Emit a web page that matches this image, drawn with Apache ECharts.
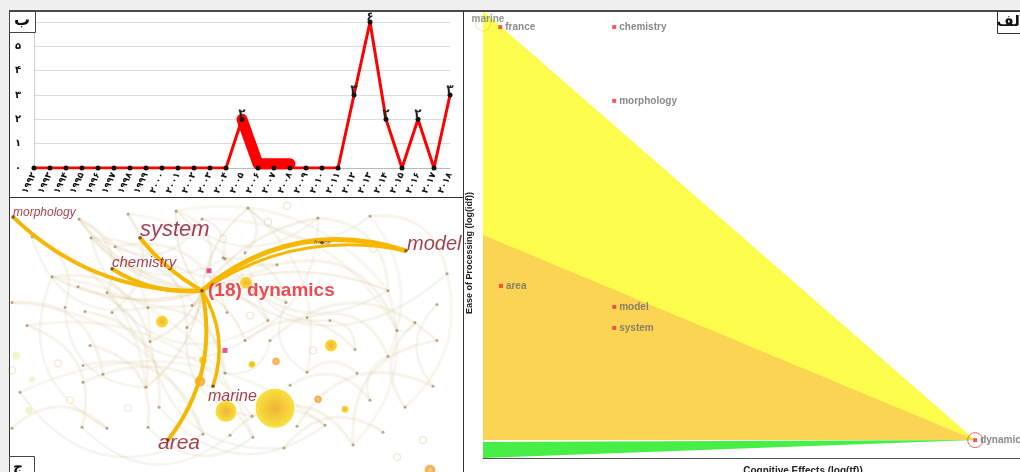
<!DOCTYPE html>
<html><head><meta charset="utf-8">
<script src="https://cdn.jsdelivr.net/npm/echarts@6/dist/echarts.min.js"></script>
<style>
html,body{margin:0;padding:0;background:#f0f0f0;overflow:hidden;}
#wrap{position:relative;width:1020px;height:472px;overflow:hidden;}
#panel{position:absolute;left:9px;top:11px;width:1011px;height:461px;background:#fff;}
#chart{position:absolute;left:0;top:0;width:1020px;height:472px;}
</style></head><body>
<div id="wrap"><div id="panel"></div><div id="chart"></div></div>
<script>
// ---------- Panel ب : publications per year ----------
const yearLabels = ['۱۹۹۲','۱۹۹۳','۱۹۹۴','۱۹۹۵','۱۹۹۶','۱۹۹۷','۱۹۹۸','۱۹۹۹','۲۰۰۰','۲۰۰۱','۲۰۰۲','۲۰۰۳','۲۰۰۴','۲۰۰۵','۲۰۰۶','۲۰۰۷','۲۰۰۸','۲۰۰۹','۲۰۱۰','۲۰۱۱','۲۰۱۲','۲۰۱۳','۲۰۱۴','۲۰۱۵','۲۰۱۶','۲۰۱۷','۲۰۱۸'];
const yearCounts = [0,0,0,0,0,0,0,0,0,0,0,0,0,2,0,0,0,0,0,0,3,6,2,0,2,0,3];
const smearBand = [null,null,null,null,null,null,null,null,null,null,null,null,null,2,0.17,0.17,0.17,null,null,null,null,null,null,null,null,null,null];
const yTickLabels = ['۰','۱','۲','۳','۴','۵','۶'];

// ---------- Panel الف : relevance / ease of processing ----------
const termNames = ['marine','france','chemistry','morphology','area','model','system','dynamics'];
const cognitiveEffects = [0.0, 0.27, 2.05, 2.05, 0.28, 2.05, 2.05, 7.69];
const easeOfProcessing = [9.72, 9.64, 9.64, 7.99, 3.85, 3.38, 2.91, 0.40];
const yellowZone = [[0,10.0],[7.69,0.40],[0,0.40]];
const orangeZone = [[0,4.99],[7.69,0.40],[0,0.40]];
const greenZone  = [[0,0.36],[7.69,0.40],[0,0.0]];

// ---------- Panel ج : co-word network (layout units) ----------
const keywordNodes = {
  morphology:[13,216], system:[140,237], chemistry:[112,268], dynamics:[202,290],
  model:[406,250], marine:[213,386], area:[168,440], france:[322,242]
};
const keywordLabels = ['morphology','system','chemistry','(18) dynamics','model','marine','area','france'];
const coreLinks = [['morphology','dynamics'],['chemistry','dynamics'],['system','dynamics'],['dynamics','model'],['dynamics','model'],['dynamics','area'],['dynamics','marine']];
const bgNodes = [
 [79,218],[128,213],[176,210],[202,218],[32,236],[91,237],[115,246],[52,276],[78,286],[107,292],
 [148,307],[12,302],[65,307],[85,311],[112,312],[192,305],[209,270],[227,312],[27,325],[187,327],
 [225,258],[248,207],[318,217],[370,215],[223,257],[277,264],[245,252],[286,302],[268,320],[307,317],
 [388,290],[447,273],[437,304],[397,330],[330,320],[90,345],[150,341],[83,365],[103,374],[20,392],
 [83,382],[146,387],[159,407],[12,428],[82,427],[107,428],[148,427],[203,434],[230,435],[253,437],
 [284,448],[297,426],[325,425],[353,445],[383,432],[405,407],[388,356],[437,340],[415,322],[355,349],
 [307,372],[290,385],[252,416],[225,373],[245,340],[270,340],[357,373],[433,386],[370,400]
];
const bgLinksA = [[0,9],[1,14],[2,16],[3,24],[4,12],[5,19],[6,17],[7,36],[8,41],[10,63],[11,38],[13,42],[15,28],[18,44],[20,27],[21,26],[22,30],[23,31],[25,33],[29,56],[34,59],[35,46],[37,47],[40,49],[43,45],[48,52],[50,54],[51,67],[53,57],[55,58],[60,66],[61,68],[62,53],[64,59],[65,57]];
const bgLinksB = [[0,20],[1,25],[2,22],[4,10],[5,15],[6,3],[7,45],[9,28],[12,41],[14,64],[16,31],[19,62],[24,30],[26,34],[27,60],[32,67],[33,58],[36,50],[39,47],[42,52],[44,48],[46,49],[56,68],[63,65],[21,23]];
const bgLinksC = [[0,36],[4,41],[11,47],[21,60],[22,64],[23,56],[3,33],[2,30],[7,49],[18,62],[31,55],[30,53],[1,28],[5,63],[39,52]];
const hubTargets = [0,2,5,9,15,19,21,25,27,36,41,64,7,30,22];
// bubbles: [x, y, weight]
const yellowBubbles = [[275,408,20],[226,411,11],[331,345,6.5],[162,321,6.5],[246,282,6.5],[203,360,4.5],[252,364,4],[345,409,4]];
const orangeBubbles = [[200,381,6],[276,361,4.5],[318,399,4.5],[430,470,6]];
const paleBubbles = [[16,355,4],[32,379,3],[29,410,3.5]];
const ringNodes = [[223,238],[268,221],[287,205],[373,248],[250,315],[58,363],[128,408],[70,400],[423,440],[397,457],[313,350],[12,370]];
const accentNodes = [[225,350],[209,270]];

// ---------- styles (kept separate from data) ----------
const kwStyle = {
  morphology:{size:12, dx:0, dy:-4},
  system:{size:22, dx:0, dy:-8},
  chemistry:{size:15, dx:0, dy:-6},
  dynamics:{size:19, dx:6, dy:0, bold:true, color:'#e5202a'},
  model:{size:20, dx:1, dy:-6},
  marine:{size:16, dx:-5, dy:10},
  area:{size:21, dx:-10, dy:3},
  france:{size:6, dx:-8, dy:-1, color:'#6a3020'}
};
const coreCurves = [-0.21,-0.17,-0.1,0.27,0.21,0.23,0.23];
const coreWidths = [4,4,4,5,3,4,3.5];

const nodeNames = Object.keys(keywordNodes);
const chart = echarts.init(document.getElementById('chart'), null, {renderer:'canvas'});

function zoneSeries(points, color){
  return {type:'custom', xAxisIndex:1, yAxisIndex:1, z:1, silent:true, data:[[0,0]],
    renderItem:(params, api)=>({type:'polygon', shape:{points: points.map(p=>api.coord(p))}, style:{fill:color}})};
}
function linkData(list){
  return list.map(l=>({coords:[bgNodes[l[0]], bgNodes[l[1]]]}));
}
const bubbleFill = {type:'radial', x:0.5, y:0.5, r:0.5, colorStops:[{offset:0,color:'#efb02c'},{offset:0.55,color:'#f4cc2e'},{offset:1,color:'#f8e23a'}]};
const orangeFill = {type:'radial', x:0.5, y:0.5, r:0.5, colorStops:[{offset:0,color:'#f9c36a'},{offset:0.5,color:'#f29a2a'},{offset:1,color:'#f4b24a'}]};
const netCommon = {xAxisIndex:2, yAxisIndex:2, silent:true};

const option = {
  animation:false,
  backgroundColor:'transparent',
  grid:[
    {left:34, top:22, width:416, height:146},
    {left:483, top:11, right:0, height:447},
    {left:10, top:198, width:453, height:274}
  ],
  xAxis:[
    {gridIndex:0, type:'category', data:yearLabels, boundaryGap:false, axisTick:{show:false},
     axisLine:{lineStyle:{color:'#bbb'}},
     axisLabel:{interval:0, rotate:65, margin:5, fontSize:9, fontWeight:'bold', color:'#111', fontFamily:'DejaVu Sans'}},
    {gridIndex:1, type:'value', min:0, max:8.39, axisLine:{show:true, onZero:false, lineStyle:{color:'#555'}},
     axisTick:{show:false}, axisLabel:{show:false}, splitLine:{show:false}},
    {gridIndex:2, type:'value', min:10, max:463, show:false}
  ],
  yAxis:[
    {gridIndex:0, type:'value', min:0, max:6, interval:1, axisLine:{show:true, lineStyle:{color:'#ccc'}},
     axisTick:{show:false}, splitLine:{lineStyle:{color:'#dcdcdc'}},
     axisLabel:{margin:13, fontSize:10, fontWeight:'bold', color:'#111', fontFamily:'DejaVu Sans', formatter:v=>yTickLabels[v]}},
    {gridIndex:1, type:'value', min:0, max:10, axisLine:{show:true, onZero:false, lineStyle:{color:'#cfcfb0'}},
     axisTick:{show:false}, axisLabel:{show:false}, splitLine:{show:false}},
    {gridIndex:2, type:'value', min:197, max:472, inverse:true, show:false}
  ],
  series:[
    // panel ب
    {type:'line', xAxisIndex:0, yAxisIndex:0, data:smearBand, z:2, silent:true, symbol:'none', connectNulls:false,
     lineStyle:{color:'#ff0000', width:11, cap:'round', join:'round'}},
    {type:'line', xAxisIndex:0, yAxisIndex:0, data:yearCounts, z:3, silent:true, symbol:'circle', symbolSize:5,
     lineStyle:{color:'#ff0000', width:3}, itemStyle:{color:'#111'},
     label:{show:true, position:'top', distance:-3, formatter:p=>p.value ? yTickLabels[p.value] : '',
       fontSize:12, fontWeight:'bold', color:'#222', fontFamily:'DejaVu Sans'}},
    // panel الف
    zoneSeries(yellowZone, '#fcfc4c'),
    zoneSeries(orangeZone, '#fcd453'),
    zoneSeries(greenZone, '#46ee46'),
    {type:'scatter', xAxisIndex:1, yAxisIndex:1, z:5, silent:true, symbol:'circle', symbolSize:15,
     data:[[cognitiveEffects[7], easeOfProcessing[7]]],
     itemStyle:{color:'rgba(0,0,0,0)', borderColor:'#d64848', borderWidth:1}},
    {type:'scatter', xAxisIndex:1, yAxisIndex:1, z:5, silent:true, symbol:'circle', symbolSize:15,
     data:[[cognitiveEffects[0], easeOfProcessing[0]]],
     itemStyle:{color:'rgba(0,0,0,0)', borderColor:'rgba(200,185,90,0.5)', borderWidth:1}},
    {type:'scatter', xAxisIndex:1, yAxisIndex:1, z:6, silent:true, symbol:'rect', symbolSize:4,
     itemStyle:{color:'#e23636'},
     label:{show:true, position:'right', distance:3, formatter:'{b}', color:'#6c6c6c', fontSize:10, fontWeight:'bold', fontFamily:'Liberation Sans'},
     data: termNames.map((n,i)=>{
       const item = {name:n, value:[cognitiveEffects[i], easeOfProcessing[i]]};
       if(n==='marine'){ item.itemStyle={color:'rgba(0,0,0,0)'}; item.label={position:'inside', align:'center', verticalAlign:'middle', offset:[5,-4], color:'#7a7a7a'}; }
       return item;
     })},
    // panel ج
    Object.assign({type:'lines', coordinateSystem:'cartesian2d', z:1, clip:true, data:linkData(bgLinksA),
      lineStyle:{color:'#d8c79c', opacity:0.2, width:3, curveness:0.45}}, netCommon),
    Object.assign({type:'lines', coordinateSystem:'cartesian2d', z:1, clip:true, data:linkData(bgLinksB),
      lineStyle:{color:'#cfcfa8', opacity:0.2, width:2.5, curveness:-0.45}}, netCommon),
    Object.assign({type:'lines', coordinateSystem:'cartesian2d', z:1, clip:true, data:linkData(bgLinksC),
      lineStyle:{color:'#d9cfa6', opacity:0.18, width:3, curveness:0.3}}, netCommon),
    Object.assign({type:'lines', coordinateSystem:'cartesian2d', z:1, clip:true,
      data:hubTargets.map(t=>({coords:[keywordNodes.dynamics, bgNodes[t]]})),
      lineStyle:{color:'#dcc58e', opacity:0.25, width:2.5, curveness:0.2}}, netCommon),
    Object.assign({type:'scatter', z:2, clip:true, symbol:'circle', symbolSize:7, data:ringNodes,
      itemStyle:{color:'rgba(255,255,255,0.6)', borderColor:'rgba(220,208,170,0.6)', borderWidth:1.2}}, netCommon),
    Object.assign({type:'scatter', z:2, clip:true, symbol:'circle', symbolSize:3, data:bgNodes,
      itemStyle:{color:'rgba(110,80,40,0.6)'}}, netCommon),
    Object.assign({type:'scatter', z:3, clip:true, symbol:'circle', symbolSize:v=>v[2]*2, data:paleBubbles,
      itemStyle:{color:'rgba(205,232,120,0.45)'}}, netCommon),
    Object.assign({type:'scatter', z:3, clip:true, symbol:'circle', symbolSize:v=>v[2]*2, data:yellowBubbles,
      itemStyle:{color:bubbleFill, borderColor:'rgba(255,255,255,0.9)', borderWidth:1, opacity:0.95}}, netCommon),
    Object.assign({type:'scatter', z:3, clip:true, symbol:'circle', symbolSize:v=>v[2]*2, data:orangeBubbles,
      itemStyle:{color:orangeFill, borderColor:'#fff', borderWidth:1.5}}, netCommon),
    Object.assign({type:'scatter', z:3, clip:true, symbol:'rect', symbolSize:5, data:accentNodes,
      itemStyle:{color:'#e0307a'}}, netCommon),
    Object.assign({type:'lines', coordinateSystem:'cartesian2d', z:4, clip:true,
      data:coreLinks.map((l,i)=>({coords:[keywordNodes[l[0]], keywordNodes[l[1]]], lineStyle:{curveness:coreCurves[i], width:coreWidths[i]}})),
      lineStyle:{color:'#f5b700', opacity:1}}, netCommon),
    Object.assign({type:'scatter', z:6, clip:true, symbol:'circle', symbolSize:3.5,
      itemStyle:{color:'#5a3a1a'},
      data:nodeNames.map((n,i)=>{
        const s = kwStyle[n];
        return {name:keywordLabels[i], value:keywordNodes[n],
          label:{show:true, position:'inside', align:'left', verticalAlign:'middle', offset:[s.dx,s.dy],
            formatter:'{b}', fontSize:s.size, fontStyle:s.bold?'normal':'italic', fontWeight:s.bold?'bold':'normal',
            color:s.color||'#8c1228', fontFamily:'Liberation Sans'}};
      })}, netCommon)
  ],
  graphic:[
    {type:'rect', z:100, shape:{x:0,y:0,width:1020,height:10.5}, style:{fill:'#f0f0f0'}},
    {type:'line', z:100, shape:{x1:9,y1:11,x2:1020,y2:11}, style:{stroke:'#111', lineWidth:1.5}},
    {type:'line', z:100, shape:{x1:9.5,y1:11,x2:9.5,y2:472}, style:{stroke:'#333', lineWidth:1}},
    {type:'line', z:100, shape:{x1:463.5,y1:11,x2:463.5,y2:472}, style:{stroke:'#333', lineWidth:1}},
    {type:'line', z:100, shape:{x1:9,y1:197.5,x2:463,y2:197.5}, style:{stroke:'#333', lineWidth:1}},
    {type:'rect', z:100, shape:{x:9.5,y:11.5,width:26,height:21}, style:{fill:'#fff', stroke:'#444', lineWidth:1}},
    {type:'text', z:101, style:{text:'ب', x:22, y:21, textAlign:'center', textVerticalAlign:'middle', font:'bold 16px "DejaVu Sans"', fill:'#111'}},
    {type:'rect', z:100, shape:{x:9.5,y:456.5,width:25,height:20}, style:{fill:'#fff', stroke:'#444', lineWidth:1}},
    {type:'text', z:101, style:{text:'ج', x:18, y:467, textAlign:'center', textVerticalAlign:'middle', font:'bold 14px "DejaVu Sans"', fill:'#111'}},
    {type:'rect', z:100, shape:{x:997.5,y:11.5,width:30,height:22}, style:{fill:'#fff', stroke:'#333', lineWidth:1}},
    {type:'text', z:101, style:{text:'الف', x:1025, y:22, textAlign:'right', textVerticalAlign:'middle', font:'bold 15px "DejaVu Sans"', fill:'#111'}},
    {type:'text', z:101, x:470, y:253, rotation:Math.PI/2, style:{text:'Ease of Processing (log(idf))', x:0, y:0, textAlign:'center', textVerticalAlign:'middle', font:'bold 9px "Liberation Sans"', fill:'#222'}},
    {type:'text', z:101, style:{text:'Cognitive Effects (log(tf))', x:803, y:471, textAlign:'center', textVerticalAlign:'middle', font:'bold 10px "Liberation Sans"', fill:'#222'}}
  ]
};
chart.setOption(option);
</script>
</body></html>
